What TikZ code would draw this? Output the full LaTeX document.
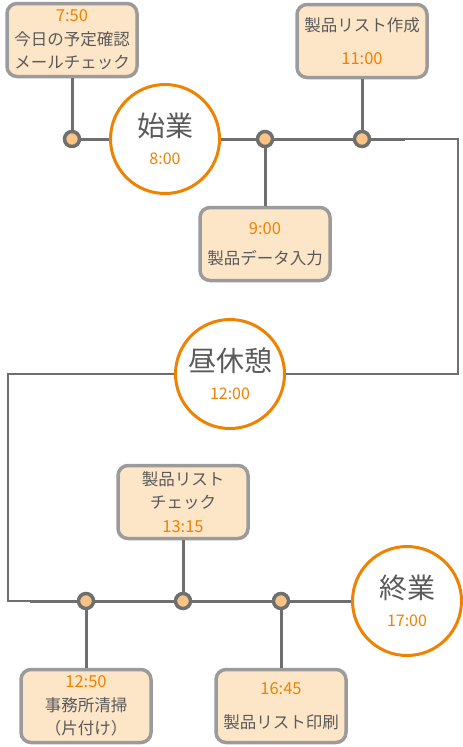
\documentclass[tikz,border=0pt]{standalone}
\usepackage{fontspec}
\setmainfont{Noto Sans CJK JP}
\usetikzlibrary{positioning}
\definecolor{boxfill}{HTML}{FDE5C8}
\definecolor{boxline}{HTML}{9B9B9B}
\definecolor{linegray}{HTML}{6F6F6F}
\definecolor{dotfill}{HTML}{FBC484}
\definecolor{accent}{HTML}{EF8200}
\definecolor{textgray}{HTML}{5A5A5A}
\newcommand{\tm}[1]{\textcolor{accent}{#1}}
\newcommand{\clocktm}[1]{{\fontsize{16}{18}\selectfont\textcolor{accent}{#1}}}

\begin{document}
\begin{tikzpicture}[x=1pt, y=-1pt,
  task/.style={draw=boxline, fill=boxfill, line width=3.5pt, rounded corners=10pt,
               minimum width=130pt, minimum height=73pt, align=center, inner sep=0pt,
               text=textgray, font=\fontsize{16.5}{23.5}\selectfont},
  milestone/.style={draw=accent, fill=white, circle, line width=3pt, minimum size=109pt,
                    inner sep=0pt, align=center, text=textgray,
                    font=\fontsize{28}{28}\selectfont},
  joint/.style={circle, draw=linegray, fill=dotfill, line width=3.5pt, minimum size=15pt,
                inner sep=0pt},
  link/.style={draw=linegray, line width=3pt},
  loop/.style={draw=linegray, line width=1.8pt}
]
\useasboundingbox (0,0) rectangle (463,747);

% milestones
\node[milestone] (start) at (165,139) {始業\\\clocktm{8:00}};
\node[milestone] (lunch) at (230,374) {昼休憩\\\clocktm{12:00}};
\node[milestone] (finish) at (407,601) {終業\\\clocktm{17:00}};

% joints on the time line
\node[joint] (j1) at (72,139) {};
\node[joint] (j2) at (265,139) {};
\node[joint] (j3) at (362,139) {};
\node[joint] (j4) at (86,601) {};
\node[joint] (j5) at (183,601) {};
\node[joint] (j6) at (281,601) {};

% tasks
\node[task] (mail) at (72,40)
  {\tm{7:50}\\今日の予定確認\\メールチェック};
\node[task] (listmake) at (362,41)
  {製品リスト作成\\[10pt]\tm{11:00}};
\node[task] (dataentry) at (265,244)
  {\tm{9:00}\\[7pt]製品データ入力};
\node[task] (listcheck) at (183,502)
  {製品リスト\\チェック\\\tm{13:15}};
\node[task] (cleanup) at (86,706)
  {\tm{12:50}\\事務所清掃\\（片付け）};
\node[task] (listprint) at (281,706)
  {\tm{16:45}\\[10pt]製品リスト印刷};

% route
\coordinate (bendA) at (405,139);
\coordinate (cornerA) at (458,139);
\coordinate (cornerB) at (458,374);
\coordinate (cornerC) at (8,374);
\coordinate (cornerD) at (8,601);
\coordinate (bendB) at (30,601);

\draw[link] (j1) -- (start);
\draw[link] (start) -- (j2) -- (j3) -- (bendA);
\draw[loop] (bendA) -- (cornerA) -- (cornerB) -- (lunch);
\draw[loop] (lunch) -- (cornerC) -- (cornerD) -- (bendB);
\draw[link] (bendB) -- (j4) -- (j5) -- (j6) -- (finish);

\draw[link] (mail) -- (j1);
\draw[link] (listmake) -- (j3);
\draw[link] (dataentry) -- (j2);
\draw[link] (listcheck) -- (j5);
\draw[link] (cleanup) -- (j4);
\draw[link] (listprint) -- (j6);
\end{tikzpicture}
\end{document}
